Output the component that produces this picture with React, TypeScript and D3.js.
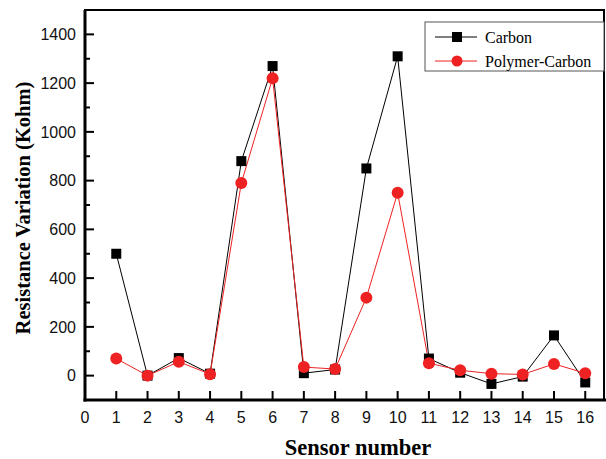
import * as d3 from "d3";

const sensors = [1, 2, 3, 4, 5, 6, 7, 8, 9, 10, 11, 12, 13, 14, 15, 16];
const carbon = [500, 0, 72, 8, 880, 1270, 10, 25, 850, 1310, 70, 12, -34, -4, 165, -28];
const polymerCarbon = [70, 0, 57, 6, 790, 1220, 35, 27, 320, 750, 51, 22, 8, 5, 48, 10];
const xTicks = [0, 1, 2, 3, 4, 5, 6, 7, 8, 9, 10, 11, 12, 13, 14, 15, 16];
const yTicks = [0, 200, 400, 600, 800, 1000, 1200, 1400];
const yMinor = [-100, 100, 300, 500, 700, 900, 1100, 1300, 1500];

const width = 606;
const height = 459;
const left = 85;
const right = 604;
const top = 10;
const bottom = 400;

const App = () => {
  const x = d3.scaleLinear().domain([0, 16.6]).range([left, right]);
  const y = d3.scaleLinear().domain([-100, 1500]).range([bottom, top]);

  const line = d3
    .line<number>()
    .x((_, i) => x(sensors[i]))
    .y((d) => y(d));

  const tickFont = "'Liberation Sans', Arial, sans-serif";
  const serif = "'Liberation Serif', 'Times New Roman', serif";

  return (
    <svg
      width={width}
      height={height}
      style={{ position: "absolute", left: 0, top: 0, background: "#fff" }}
    >
      {/* frame */}
      <rect x={left} y={top} width={right - left} height={bottom - top} fill="none" stroke="#000" strokeWidth={2} />
      <line x1={left} x2={left} y1={top} y2={bottom + 1.5} stroke="#000" strokeWidth={3} />
      <line x1={left - 1.5} x2={right + 2} y1={bottom} y2={bottom} stroke="#000" strokeWidth={3} />

      {/* y ticks */}
      {yTicks.map((t) => (
        <g key={t}>
          <line x1={left} x2={left + 9} y1={y(t)} y2={y(t)} stroke="#000" strokeWidth={2} />
          <text x={76} y={y(t)} dy="0.36em" textAnchor="end" fontSize={16} fontFamily={tickFont} fill="#111">
            {t}
          </text>
        </g>
      ))}
      {yMinor.map((t) => (
        <line key={t} x1={left} x2={left + 5} y1={y(t)} y2={y(t)} stroke="#000" strokeWidth={2} />
      ))}

      {/* x ticks */}
      {xTicks.map((t) => (
        <g key={t}>
          <line x1={x(t)} x2={x(t)} y1={bottom} y2={bottom - 9} stroke="#000" strokeWidth={2} />
          <text x={x(t)} y={423} textAnchor="middle" fontSize={16} fontFamily={tickFont} fill="#111">
            {t}
          </text>
        </g>
      ))}

      {/* series */}
      <path d={line(carbon) ?? ""} fill="none" stroke="#000" strokeWidth={1} />
      <path d={line(polymerCarbon) ?? ""} fill="none" stroke="#ee2222" strokeWidth={1} />
      {carbon.map((d, i) => (
        <rect key={i} x={x(sensors[i]) - 5} y={y(d) - 5} width={10} height={10} fill="#000" />
      ))}
      {polymerCarbon.map((d, i) => (
        <circle key={i} cx={x(sensors[i])} cy={y(d)} r={6} fill="#ee2222" />
      ))}

      {/* axis titles */}
      <text x={358} y={455} textAnchor="middle" fontSize={22.5} fontWeight="bold" fontFamily={serif}>
        Sensor number
      </text>
      <text
        transform="translate(30, 208) rotate(-90)"
        textAnchor="middle"
        fontSize={20.5}
        fontWeight="bold"
        fontFamily={serif}
      >
        Resistance Variation (Kohm)
      </text>

      {/* legend */}
      <g>
        <rect x={425} y={22} width={179} height={49} fill="#fff" stroke="#555" strokeWidth={1} />
        <line x1={435} x2={477} y1={37} y2={37} stroke="#000" strokeWidth={1} />
        <rect x={452} y={32} width={10} height={10} fill="#000" />
        <text x={485} y={37} dy="0.35em" fontSize={16} fontFamily={serif}>
          Carbon
        </text>
        <line x1={435} x2={477} y1={61} y2={61} stroke="#ee2222" strokeWidth={1} />
        <circle cx={457} cy={61} r={5.5} fill="#ee2222" />
        <text x={485} y={61} dy="0.35em" fontSize={16} fontFamily={serif}>
          Polymer-Carbon
        </text>
      </g>
    </svg>
  );
};

export default App;
